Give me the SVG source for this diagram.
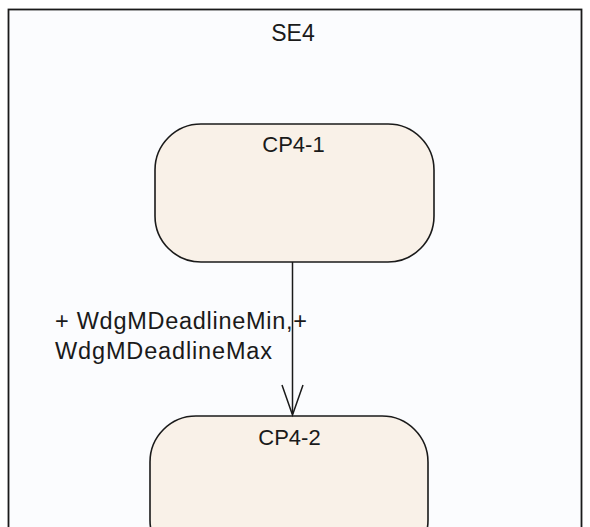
<svg xmlns="http://www.w3.org/2000/svg" width="590" height="527" viewBox="0 0 590 527">
<style>
text{font-family:"Liberation Sans",Arial,sans-serif;fill:#1a1a1a}
.state{fill:#f9f1e8;stroke:#1a1a1a;stroke-width:1.6}
.conn{stroke:#1a1a1a;stroke-width:1.5;fill:none}
</style>
<rect width="590" height="527" fill="#ffffff"/>
<g id="SE4">
<rect x="8.5" y="9.5" width="573" height="540" fill="#fbfcfe" stroke="#1a1a1a" stroke-width="1.8"/>
<text x="293" y="41" font-size="23" text-anchor="middle">SE4</text>
</g>
<g id="CP4-1">
<rect class="state" x="155" y="124" width="279" height="138" rx="46" ry="46"/>
<text x="293.5" y="152" font-size="22" text-anchor="middle">CP4-1</text>
</g>
<g id="CP4-2">
<rect class="state" x="150" y="416" width="278" height="150" rx="46" ry="46"/>
<text x="289.5" y="445" font-size="22" text-anchor="middle">CP4-2</text>
</g>
<g id="connectors">
<line class="conn" x1="292.5" y1="262" x2="292.5" y2="414"/>
<polyline class="conn" points="282,385 292.5,415 303,385"/>
<text x="55" y="329" font-size="23.5" textLength="252" lengthAdjust="spacing">+ WdgMDeadlineMin,+</text>
<text x="55" y="359" font-size="23.5" textLength="217" lengthAdjust="spacing">WdgMDeadlineMax</text>
</g>
</svg>
